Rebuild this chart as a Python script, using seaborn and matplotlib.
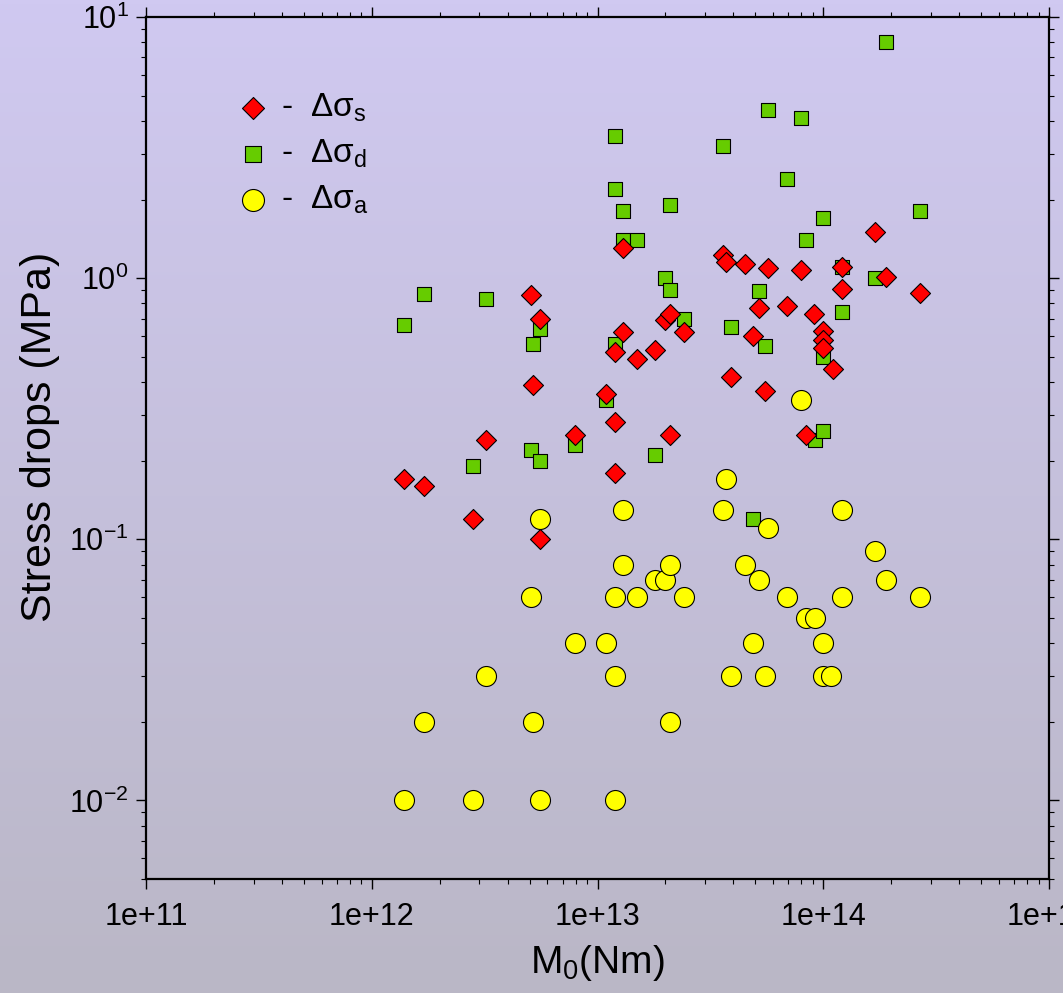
import numpy as np
import pandas as pd
import matplotlib
matplotlib.use("Agg")
import matplotlib.pyplot as plt
import seaborn as sns
from matplotlib.ticker import FixedLocator, FixedFormatter, LogLocator, NullFormatter
from matplotlib.colors import LinearSegmentedColormap

# ---------------- data ----------------
# static stress drop (diamonds)
m0_s = [1.39e12, 1.70e12, 2.8e12, 3.2e12, 5.1e12, 5.2e12, 5.56e12, 5.56e12, 7.95e12,
        1.09e13, 1.19e13, 1.19e13, 1.19e13, 1.30e13, 1.30e13, 1.49e13, 1.79e13, 1.99e13,
        2.09e13, 2.09e13, 2.42e13, 3.59e13, 3.7e13, 3.89e13, 4.5e13, 4.88e13, 5.19e13,
        5.51e13, 5.69e13, 6.9e13, 7.95e13, 8.37e13, 9.1e13, 1.0e14, 1.0e14, 1.0e14,
        1.1e14, 1.21e14, 1.21e14, 1.69e14, 1.89e14, 2.68e14]
stress_s = [0.17, 0.16, 0.12, 0.24, 0.86, 0.39, 0.70, 0.10, 0.25,
            0.36, 0.28, 0.18, 0.52, 1.3, 0.62, 0.49, 0.53, 0.69,
            0.73, 0.25, 0.62, 1.23, 1.15, 0.42, 1.13, 0.60, 0.77,
            0.37, 1.09, 0.78, 1.07, 0.25, 0.73, 0.63, 0.58, 0.54,
            0.45, 1.1, 0.91, 1.5, 1.01, 0.88]

# dynamic stress drop (squares)
m0_d = [1.39e12, 1.70e12, 2.8e12, 3.2e12, 5.1e12, 5.2e12, 5.56e12, 5.56e12, 7.95e12,
        1.09e13, 1.19e13, 1.19e13, 1.19e13, 1.30e13, 1.30e13, 1.49e13, 1.79e13, 1.99e13,
        2.09e13, 2.09e13, 2.42e13, 3.59e13, 3.89e13, 4.88e13, 5.19e13, 5.51e13, 5.69e13,
        6.9e13, 7.95e13, 8.37e13, 9.18e13, 1.0e14, 1.0e14, 1.0e14, 1.21e14, 1.21e14,
        1.69e14, 1.89e14, 2.68e14]
stress_d = [0.66, 0.87, 0.19, 0.83, 0.22, 0.56, 0.20, 0.64, 0.23,
            0.34, 3.5, 2.2, 0.56, 1.8, 1.4, 1.4, 0.21, 1.0,
            1.9, 0.90, 0.70, 3.2, 0.65, 0.12, 0.89, 0.55, 4.4,
            2.4, 4.1, 1.4, 0.24, 1.7, 0.50, 0.26, 1.1, 0.74,
            1.0, 8.0, 1.8]

# apparent stress (circles)
m0_a = [1.39e12, 1.70e12, 2.8e12, 3.2e12, 5.1e12, 5.2e12, 5.56e12, 5.56e12, 7.95e12,
        1.09e13, 1.19e13, 1.19e13, 1.19e13, 1.30e13, 1.30e13, 1.49e13, 1.79e13, 1.99e13,
        2.09e13, 2.09e13, 2.42e13, 3.59e13, 3.7e13, 3.89e13, 4.5e13, 4.88e13, 5.19e13,
        5.51e13, 5.69e13, 6.9e13, 7.95e13, 8.37e13, 9.18e13, 1.0e14, 1.0e14, 1.08e14,
        1.21e14, 1.21e14, 1.69e14, 1.89e14, 2.68e14]
stress_a = [0.01, 0.02, 0.01, 0.03, 0.06, 0.02, 0.01, 0.12, 0.04,
            0.04, 0.06, 0.03, 0.01, 0.13, 0.08, 0.06, 0.07, 0.07,
            0.08, 0.02, 0.06, 0.13, 0.17, 0.03, 0.08, 0.04, 0.07,
            0.03, 0.11, 0.06, 0.34, 0.05, 0.05, 0.04, 0.03, 0.03,
            0.13, 0.06, 0.09, 0.07, 0.06]

series_labels = [r"-  $\Delta\sigma_{s}$", r"-  $\Delta\sigma_{d}$", r"-  $\Delta\sigma_{a}$"]
xtick_values = [1e11, 1e12, 1e13, 1e14, 1e15]
xtick_labels = ["1e+11", "1e+12", "1e+13", "1e+14", "1e+15"]
ytick_values = [1e-2, 1e-1, 1e0, 1e1]
ytick_labels = [r"$10^{-2}$", r"$10^{-1}$", r"$10^{0}$", r"$10^{1}$"]
x_label = r"M$_{0}$(Nm)"
y_label = "Stress drops (MPa)"

# ---------------- style ----------------
sns.set_style("ticks")
plt.rcParams["font.family"] = ["Liberation Sans", "DejaVu Sans"]
plt.rcParams["mathtext.fontset"] = "custom"
plt.rcParams["mathtext.rm"] = "Liberation Sans"
plt.rcParams["mathtext.it"] = "Liberation Sans"
plt.rcParams["mathtext.bf"] = "Liberation Sans:bold"
plt.rcParams["mathtext.default"] = "regular"
for k in ["text.color", "axes.labelcolor", "xtick.color", "ytick.color", "axes.edgecolor"]:
    plt.rcParams[k] = "black"

W, H = 1063, 993
fig = plt.figure(figsize=(W / 100, H / 100), dpi=100)

# gradient background
bg = fig.add_axes([0, 0, 1, 1], zorder=-10)
cmap = LinearSegmentedColormap.from_list("bg", ["#d0c9f1", "#bab7c6"])
grad = np.linspace(0, 1, 256).reshape(-1, 1)
bg.imshow(grad, aspect="auto", cmap=cmap, extent=[0, 1, 0, 1], origin="upper")
bg.set_axis_off()

ax = fig.add_axes([146 / W, 1 - 879 / H, (1049 - 146) / W, (879 - 17) / H])
ax.set_facecolor("none")

df_d = pd.DataFrame({"M0": m0_d, "stress": stress_d})
df_s = pd.DataFrame({"M0": m0_s, "stress": stress_s})
df_a = pd.DataFrame({"M0": m0_a, "stress": stress_a})

sns.scatterplot(data=df_d, x="M0", y="stress", marker="s", s=100, color="#66cc00",
                edgecolor="black", linewidth=0.8, ax=ax, zorder=3, label=series_labels[1])
sns.scatterplot(data=df_s, x="M0", y="stress", marker="D", s=104, color="#ff0000",
                edgecolor="black", linewidth=0.8, ax=ax, zorder=4, label=series_labels[0])
sns.scatterplot(data=df_a, x="M0", y="stress", marker="o", s=207, color="#ffff00",
                edgecolor="black", linewidth=0.8, ax=ax, zorder=5, label=series_labels[2])

ax.set_xscale("log")
ax.set_yscale("log")
ax.set_xlim(1e11, 1e15)
ax.set_ylim(0.005, 10)

ax.xaxis.set_major_locator(FixedLocator(xtick_values))
ax.xaxis.set_major_formatter(FixedFormatter(xtick_labels))
ax.yaxis.set_major_locator(FixedLocator(ytick_values))
ax.yaxis.set_major_formatter(FixedFormatter(ytick_labels))
ax.xaxis.set_minor_locator(LogLocator(base=10, subs=np.arange(2, 10), numticks=20))
ax.yaxis.set_minor_locator(LogLocator(base=10, subs=np.arange(2, 10), numticks=20))
ax.xaxis.set_minor_formatter(NullFormatter())
ax.yaxis.set_minor_formatter(NullFormatter())

for sp in ax.spines.values():
    sp.set_visible(True)
    sp.set_linewidth(1.6)
    sp.set_color("black")

ax.tick_params(which="both", direction="out", top=True, right=True,
               labeltop=False, labelright=False, colors="black")
ax.tick_params(which="major", length=7.5, width=1.0, labelsize=22, pad=5)
ax.tick_params(which="minor", length=3.8, width=0.8)
ax.tick_params(axis="x", which="major", pad=9)

ax.set_xlabel(x_label, fontsize=28, labelpad=8)
ax.set_ylabel(y_label, fontsize=31)
ax.yaxis.set_label_coords(-0.0952, 0.513)

handles, labels = ax.get_legend_handles_labels()
order = [labels.index(l) for l in series_labels]
leg = ax.legend([handles[i] for i in order], [labels[i] for i in order],
                loc="upper left", bbox_to_anchor=(0.0999, 0.913), frameon=False,
                fontsize=24, handletextpad=0.35, labelspacing=0.40,
                borderaxespad=0, borderpad=0, handlelength=1.0, markerscale=1.1)

fig.savefig("out.png", dpi=100)
